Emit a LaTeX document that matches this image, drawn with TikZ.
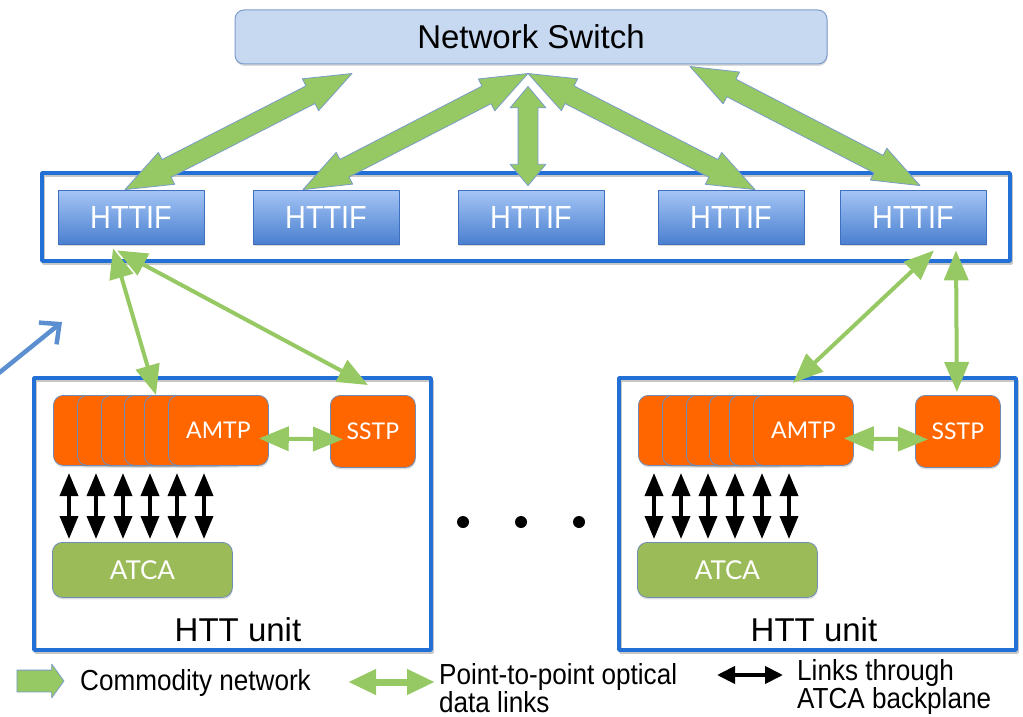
\documentclass[tikz,border=0pt]{standalone}
\usepackage{fontspec}
\setmainfont{Liberation Sans}
\newfontfamily\narrowfont{Liberation Sans}[FakeStretch=0.9]
\newfontfamily\cardfont{Lato}
\usetikzlibrary{arrows.meta, calc, shapes.arrows, shadows}

\definecolor{swfill}{HTML}{C6D9F1}
\definecolor{swedge}{HTML}{7E9CCB}
\definecolor{iftop}{HTML}{A5C5F5}
\definecolor{ifbot}{HTML}{4A80D0}
\definecolor{ifedge}{HTML}{3F6FBF}
\definecolor{frameblue}{HTML}{2270D6}
\definecolor{amorange}{HTML}{FF6600}
\definecolor{cardedge}{HTML}{6F8DB9}
\definecolor{atcagreen}{HTML}{9BBB59}
\definecolor{netgreen}{HTML}{96C864}
\definecolor{rim}{HTML}{7A9CC6}
\definecolor{pointerblue}{HTML}{5B8FD0}

\tikzset{
  switchbox/.style={draw=swedge, fill=swfill, line width=1pt, rounded corners=9pt,
    minimum width=592pt, minimum height=54pt, inner sep=0pt,
    drop shadow={opacity=0.3, shadow xshift=0.5pt, shadow yshift=-2pt},
    font=\fontsize{33}{36}\selectfont},
  ifbox/.style={draw=ifedge, top color=iftop, bottom color=ifbot, line width=0.8pt,
    minimum width=146pt, minimum height=54pt, inner sep=0pt, text=white,
    drop shadow={opacity=0.3, shadow xshift=0.5pt, shadow yshift=-2pt},
    font=\narrowfont\fontsize{32}{34}\selectfont},
  unitframe/.style={draw=frameblue, line width=3.5pt},
  unitshadow/.style={draw=black!22, line width=3.5pt},
  card/.style={draw=cardedge, fill=amorange, line width=0.8pt, rounded corners=10pt,
    minimum width=100pt, minimum height=70pt, inner sep=0pt, anchor=north west,
    text=white, font=\cardfont\fontsize{23}{26}\selectfont,
    drop shadow={opacity=0.25, shadow xshift=0.5pt, shadow yshift=-2pt}},
  atcabox/.style={draw=cardedge, fill=atcagreen, line width=0.8pt, rounded corners=10pt,
    minimum width=180pt, minimum height=55pt, inner sep=0pt, anchor=north west,
    text=white, font=\cardfont\fontsize{26}{30}\selectfont,
    drop shadow={opacity=0.25, shadow xshift=0.5pt, shadow yshift=-2pt}},
  fatarrow/.style={double arrow, draw=rim, fill=netgreen, line width=0.8pt,
    inner sep=0pt, inner ysep=9.5pt, double arrow head extend=8pt,
    double arrow tip angle=42},
  p2plink/.style={draw=netgreen, line width=4pt,
    {Triangle[width=24pt,length=30pt]}-{Triangle[width=24pt,length=30pt]}},
  bplink/.style={draw=black, line width=3.5pt,
    {Triangle[width=18pt,length=23pt]}-{Triangle[width=18pt,length=23pt]}},
  pointer/.style={draw=pointerblue, line width=4.5pt, -{Straight Barb[length=15pt,width=28pt]}},
  unitlabel/.style={inner sep=0pt, font=\fontsize{33}{36}\selectfont},
  legendtext/.style={anchor=north west, inner sep=0pt, align=left,
    font=\narrowfont\fontsize{29}{24}\selectfont},
}

% fat two-headed arrow between two points
\newcommand{\fatlink}[3][]{%
  \path let \p1=($(#3)-(#2)$), \n1={atan2(\y1,\x1)}, \n2={veclen(\x1,\y1)} in
    node[fatarrow, #1, rotate=\n1, minimum height=\n2] at ($(#2)!0.5!(#3)$) {};}

\begin{document}
\begin{tikzpicture}[x=1pt, y=-1pt, line join=round]
  \useasboundingbox (0,0) rectangle (1023,717);

  % switch and interface row
  \node[switchbox] (switch) at (531,37) {Network Switch};
  \draw[unitshadow] (43.5,175.5) rectangle (1011.5,263.5);
  \draw[unitframe] (42,173) rectangle (1010,261);
  \foreach \n/\x in {1/131, 2/326, 3/531, 4/731, 5/913}
    \node[ifbox] (if\n) at (\x,217) {HTTIF};

  % commodity network
  \coordinate (sw-a) at ($(switch.south)+(-179,9)$);
  \coordinate (sw-m) at ($(switch.south)+(-3,9)$);
  \coordinate (sw-v) at ($(switch.south)+(-3,22)$);
  \coordinate (sw-b) at ($(switch.south)+(159,2)$);
  \coordinate (if-a) at ($(if1.north)+(-6,0)$);
  \coordinate (if-b) at ($(if2.north)+(-23,0)$);
  \coordinate (if-c) at ($(if3.north)+(-3,-4)$);
  \coordinate (if-d) at ($(if4.north)+(24,0)$);
  \coordinate (if-e) at ($(if5.north)+(7,-4)$);
  \fatlink{if-a}{sw-a}
  \fatlink{if-b}{sw-m}
  \fatlink{if-d}{sw-m}
  \fatlink[double arrow tip angle=80]{if-c}{sw-v}
  \fatlink{if-e}{sw-b}

  % HTT units
  \foreach \u/\ox/\tx in {L/34/238, R/619/814}{
    \draw[unitshadow] (\ox+1.5,380.5) rectangle (\ox+398.5,652.5);
    \draw[unitframe] (\ox,378) rectangle (\ox+397,650);
    \foreach \dx in {0,24,48,71,91}
      \node[card] (amtp\u-\dx) at (\ox+19+\dx,395) {};
    \node[card] (amtp\u) at (\ox+134,395) {AMTP};
    \node[card, minimum width=85pt, minimum height=72pt] (sstp\u) at (\ox+296,395) {SSTP};
    \node[atcabox] (atca\u) at (\ox+18,542) {ATCA};
    \foreach \k in {0,...,5}
      \draw[bplink] ($(atca\u.north west)+(17+27*\k,-3)$) -- ++(0,-66);
    \draw[p2plink] ([shift={(-10,8)}]amtp\u.east) -- ([shift={(13,8)}]sstp\u.west);
    \node[unitlabel] (unit\u) at (\tx,630) {HTT unit};
  }

  % optical links to the interfaces
  \draw[p2plink] ([shift={(-18,4)}]if1.south) -- ([xshift=-12pt]amtpL.north west);
  \draw[p2plink] ([shift={(-14,6)}]if1.south) -- ([shift={(-5,-10)}]sstpL.north);
  \draw[p2plink] ([shift={(21,6)}]if5.south) -- ([shift={(40,-12)}]amtpR.north west);
  \draw[p2plink] ([shift={(43,6)}]if5.south) -- ([shift={(-1,-3)}]sstpR.north);

  \foreach \x in {463,521,579}
    \fill (\x,522) circle (6pt);

  \coordinate (ptr-tail) at (-6,377);
  \coordinate (ptr-tip) at (62,322);
  \draw[pointer] (ptr-tail) -- (ptr-tip);

  % legend
  \node[single arrow, draw=rim, fill=netgreen, line width=0.8pt, inner sep=0pt,
    inner ysep=10.5pt, single arrow head extend=6pt, single arrow tip angle=108,
    minimum height=47pt] (key-net) at (36.5,681) {};
  \node[legendtext, anchor=west] (key-net-text) at (80,683) {Commodity network};
  \coordinate (key-p2p-a) at (348,682);
  \coordinate (key-p2p-b) at (435,682);
  \draw[draw=netgreen, line width=7pt,
    {Triangle[width=24pt,length=28pt]}-{Triangle[width=24pt,length=28pt]}] (key-p2p-a) -- (key-p2p-b);
  \node[legendtext] (key-p2p-text) at (439,663) {Point-to-point optical\\data links};
  \coordinate (key-bp-a) at (717,675);
  \coordinate (key-bp-b) at (783,675);
  \draw[draw=black, line width=4pt,
    {Triangle[width=17pt,length=18pt]}-{Triangle[width=17pt,length=18pt]}] (key-bp-a) -- (key-bp-b);
  \node[legendtext] (key-bp-text) at (797,659) {Links through\\ATCA backplane};
\end{tikzpicture}
\end{document}
